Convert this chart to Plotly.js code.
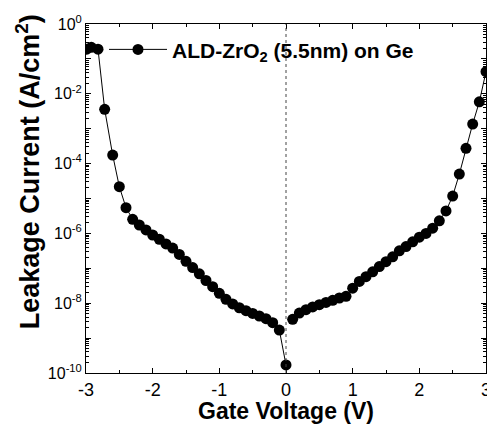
<!DOCTYPE html>
<html>
<head>
<meta charset="utf-8">
<script src="https://cdn.plot.ly/plotly-3.0.1.min.js"></script>
<style>html,body{margin:0;padding:0;background:#fff;}#chart{width:487px;height:424px;}</style>
</head>
<body>
<div id="chart"></div>
<script>
// Negative-bias branch (from -3 V to 0 V)
var voltageNeg = [-2.99, -2.92, -2.82, -2.72, -2.6, -2.5, -2.4, -2.3, -2.2, -2.1, -2.0, -1.9, -1.8, -1.7, -1.6, -1.5, -1.4, -1.3, -1.2, -1.1, -1.0, -0.9, -0.8, -0.7, -0.6, -0.5, -0.4, -0.3, -0.2, -0.1, 0.0];
var currentNeg = [1.9e-1, 2.15e-1, 1.9e-1, 3.6e-3, 1.76e-4, 2.18e-5, 5.45e-6, 2.54e-6, 1.74e-6, 1.26e-6, 9.0e-7, 6.8e-7, 5.0e-7, 3.8e-7, 2.5e-7, 1.58e-7, 1.05e-7, 6.95e-8, 4.47e-8, 2.97e-8, 1.92e-8, 1.29e-8, 9.5e-9, 7.4e-9, 6.1e-9, 5.1e-9, 4.3e-9, 3.6e-9, 2.76e-9, 1.7e-9, 1.7e-10];
// Positive-bias branch (from 0.1 V to 3 V)
var voltagePos = [0.1, 0.2, 0.3, 0.4, 0.5, 0.6, 0.7, 0.8, 0.9, 1.0, 1.1, 1.2, 1.3, 1.4, 1.5, 1.6, 1.7, 1.8, 1.9, 2.0, 2.1, 2.2, 2.3, 2.4, 2.5, 2.6, 2.7, 2.8, 2.9, 3.0];
var currentPos = [3.46e-9, 5.2e-9, 6.5e-9, 7.8e-9, 9.05e-9, 1.05e-8, 1.21e-8, 1.41e-8, 1.58e-8, 2.7e-8, 4.2e-8, 5.75e-8, 7.9e-8, 1.12e-7, 1.55e-7, 2.14e-7, 3.16e-7, 4.2e-7, 5.75e-7, 7.8e-7, 1.0e-6, 1.41e-6, 2.3e-6, 4.4e-6, 1.17e-5, 5.0e-5, 2.75e-4, 1.36e-3, 5.9e-3, 4.3e-2];

var seriesName = 'ALD-ZrO<sub>2</sub> (5.5nm) on Ge';
var yTickVals = [1e-10, 1e-9, 1e-8, 1e-7, 1e-6, 1e-5, 1e-4, 1e-3, 1e-2, 1e-1, 1];
var yTickText = ['10<sup>-10</sup>', '', '10<sup>-8</sup>', '', '10<sup>-6</sup>', '', '10<sup>-4</sup>', '', '10<sup>-2</sup>', '', '10<sup>0</sup>'];
var xTickVals = [-3, -2, -1, 0, 1, 2, 3];
var xTickText = ['-3', '-2', '-1', '0', '1', '2', '3'];

var FONT = 'Liberation Sans, Arial, Helvetica, sans-serif';
var markerStyle = {symbol: 'circle', size: 11, color: '#000'};
var lineStyle = {color: '#000', width: 1};

var traces = [
  {x: voltageNeg, y: currentNeg, type: 'scatter', mode: 'lines+markers', name: seriesName,
   marker: markerStyle, line: lineStyle, showlegend: true},
  {x: voltagePos, y: currentPos, type: 'scatter', mode: 'lines+markers', name: seriesName,
   marker: markerStyle, line: lineStyle, showlegend: false}
];

var layout = {
  width: 487, height: 424,
  margin: {l: 86, r: 1, t: 24, b: 51, pad: 0},
  paper_bgcolor: '#fff', plot_bgcolor: '#fff',
  font: {family: FONT, color: '#000', size: 15},
  showlegend: true,
  legend: {x: 0.045, y: 0.985, xanchor: 'left', yanchor: 'top', bgcolor: 'rgba(0,0,0,0)',
           borderwidth: 0, itemwidth: 58,
           font: {family: FONT, size: 21, color: '#000', weight: 'bold'}},
  xaxis: {
    range: [-3, 3], tickmode: 'array', tickvals: xTickVals, ticktext: xTickText,
    ticks: 'inside', ticklen: 5, tickwidth: 1, tickcolor: '#000',
    minor: {dtick: 0.5, ticks: 'inside', ticklen: 3, tickcolor: '#000'},
    showline: true, linecolor: '#000', linewidth: 1, mirror: 'ticks',
    showgrid: false, zeroline: false, ticklabeloverflow: 'allow',
    tickfont: {family: FONT, size: 18},
    title: {text: 'Gate Voltage (V)', standoff: 5, font: {family: FONT, size: 23, weight: 'bold'}}
  },
  yaxis: {
    type: 'log', range: [-10, 0], tickmode: 'array', tickvals: yTickVals, ticktext: yTickText,
    ticks: 'inside', ticklen: 5, tickwidth: 1, tickcolor: '#000',
    minor: {dtick: 'D1', ticks: 'inside', ticklen: 3, tickcolor: '#000'},
    showline: true, linecolor: '#000', linewidth: 1, mirror: 'ticks',
    showgrid: false, zeroline: false,
    tickfont: {family: FONT, size: 16}
  },
  shapes: [
    {type: 'line', xref: 'x', yref: 'paper', x0: 0, x1: 0, y0: 0, y1: 1,
     line: {color: '#444', width: 1, dash: 'dot'}}
  ],
  annotations: [
    {text: 'Leakage Current (A/cm<sup>2</sup>)', xref: 'paper', yref: 'paper',
     x: -0.145, y: 0.575, xanchor: 'center', yanchor: 'middle', textangle: -90,
     showarrow: false, font: {family: FONT, size: 27, weight: 'bold', color: '#000'}}
  ]
};

Plotly.newPlot('chart', traces, layout, {displayModeBar: false, staticPlot: true});
</script>
</body>
</html>
